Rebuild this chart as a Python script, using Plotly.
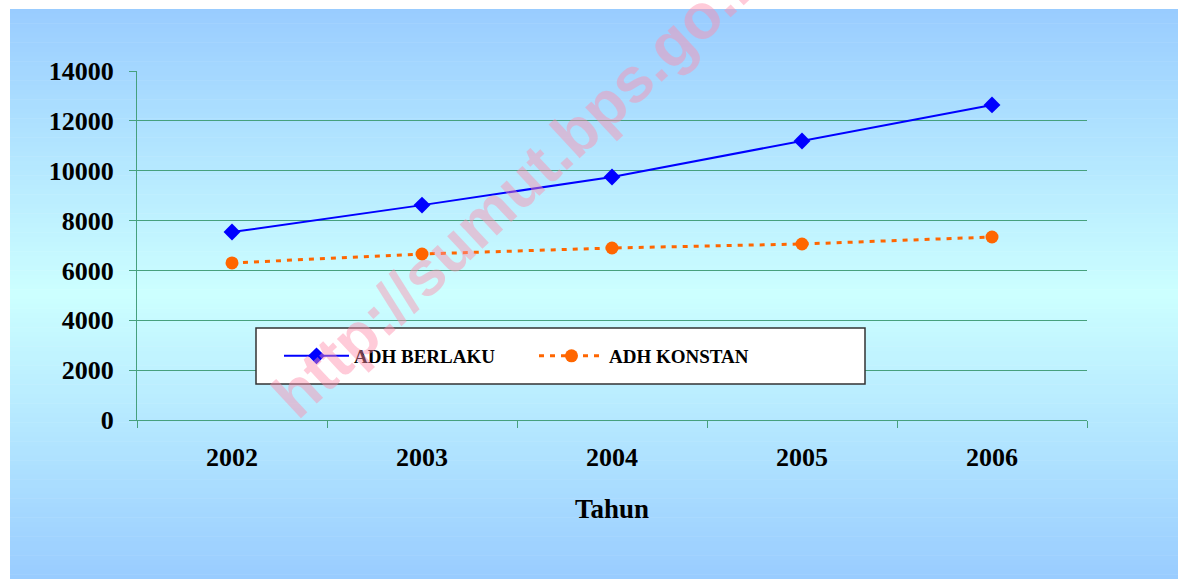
import plotly.graph_objects as go

years = ["2002", "2003", "2004", "2005", "2006"]
adh_berlaku = [7540, 8620, 9750, 11190, 12640]
adh_konstan = [6300, 6660, 6900, 7060, 7340]
y_ticks = [0, 2000, 4000, 6000, 8000, 10000, 12000, 14000]
y_tick_labels = [str(v) for v in y_ticks]

W, H = 1178, 579
ml, mr, mt, mb = 137, 91, 71, 159
pw, ph = W - ml - mr, H - mt - mb


def px2x(px):
    return (px - ml) / pw


def py2y(py):
    return (H - mb - py) / ph


fig = go.Figure()
fig.add_trace(go.Scatter(
    x=years, y=adh_berlaku, name="ADH BERLAKU", mode="lines+markers",
    line=dict(color="#0000FF", width=2),
    marker=dict(symbol="diamond", size=13, color="#0000FF"),
))
fig.add_trace(go.Scatter(
    x=years, y=adh_konstan, name="ADH KONSTAN", mode="lines+markers",
    line=dict(color="#FF6600", width=3, dash="5px,6px"),
    marker=dict(symbol="circle", size=13, color="#FF6600"),
))

# gradient background (top/bottom #99CCFF, middle #CCFFFF)
shapes = []
top, bot = 9, 579
n = 120
c1 = (153, 204, 255)
c2 = (204, 255, 255)
for i in range(n):
    p0 = top + (bot - top) * i / n
    p1 = top + (bot - top) * (i + 1) / n
    mid = (i + 0.5) / n
    t = 1 - abs(mid - 0.5) * 2
    col = tuple(round(a + (b - a) * t) for a, b in zip(c1, c2))
    shapes.append(dict(
        type="rect", xref="paper", yref="paper", layer="below",
        x0=px2x(10), x1=px2x(W + 2), y0=py2y(p1 + 0.6), y1=py2y(p0),
        fillcolor="rgb(%d,%d,%d)" % col, line=dict(width=0),
    ))

# legend box
shapes.append(dict(
    type="rect", xref="paper", yref="paper", layer="above",
    x0=px2x(256), x1=px2x(865), y0=py2y(384), y1=py2y(328),
    fillcolor="white", line=dict(color="#333333", width=1.5),
))

grid = "rgb(70,160,125)"
fig.update_layout(
    width=W, height=H,
    margin=dict(l=ml, r=mr, t=mt, b=mb, pad=0),
    paper_bgcolor="white", plot_bgcolor="rgba(0,0,0,0)",
    shapes=shapes,
    showlegend=True,
    legend=dict(
        orientation="h", x=px2x(279), y=py2y(356), xanchor="left", yanchor="middle",
        bgcolor="rgba(0,0,0,0)", borderwidth=0,
        font=dict(family="Liberation Serif", size=19, color="black", weight="bold"),
        entrywidth=175, itemwidth=65,
    ),
    xaxis=dict(
        type="category", tickson="boundaries", ticks="outside", ticklen=7,
        tickcolor=grid, showline=True, linecolor=grid, linewidth=1,
        showgrid=False, ticklabelstandoff=14,
        tickfont=dict(family="Liberation Serif", size=26, color="black", weight="bold"),
        title=dict(text="Tahun", standoff=27,
                   font=dict(family="Liberation Serif", size=27, color="black", weight="bold")),
        range=[-0.5, 4.5],
    ),
    yaxis=dict(
        range=[0, 14000], tickvals=y_ticks, ticktext=y_tick_labels,
        ticks="outside", ticklen=7,
        tickcolor=grid, showline=True, linecolor=grid, linewidth=1,
        showgrid=True, gridcolor=grid, gridwidth=1, zeroline=False,
        ticklabelstandoff=10,
        tickfont=dict(family="Liberation Serif", size=26, color="black", weight="bold"),
    ),
    annotations=[dict(
        text="http://sumut.bps.go.id", xref="paper", yref="paper",
        x=px2x(524), y=py2y(180), xanchor="center", yanchor="middle",
        showarrow=False, textangle=-43,
        font=dict(family="Liberation Sans", size=63, color="rgba(255,140,170,0.45)", weight="bold"),
    )],
)

fig.write_html("out.html", config={"displayModeBar": False},
               post_script="document.body.style.margin='0';")
